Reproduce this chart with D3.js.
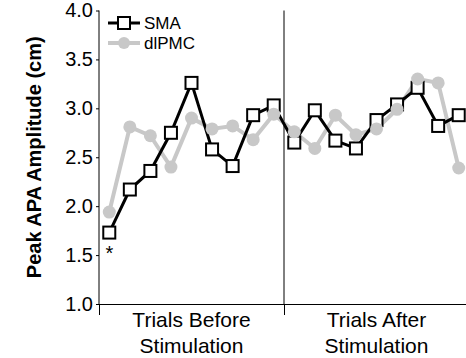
<!DOCTYPE html>
<html>
<head>
<meta charset="utf-8">
<script src="https://cdn.jsdelivr.net/npm/d3@7"></script>
<style>
  body { margin: 0; background: #fff; }
  svg { display: block; font-family: "Liberation Sans", Arial, Helvetica, sans-serif; }
</style>
</head>
<body>
<div id="chart"></div>
<script>
'use strict';

/*** Data */
const trialIndex = d3.range(18);                 // 9 trials before + 9 after
const smaValues = [1.73, 2.17, 2.36, 2.75, 3.26, 2.58, 2.41, 2.93, 3.03,
                   2.65, 2.98, 2.67, 2.59, 2.88, 3.04, 3.21, 2.82, 2.93];
const dlpmcValues = [1.94, 2.81, 2.72, 2.40, 2.90, 2.79, 2.82, 2.68, 2.94,
                     2.76, 2.59, 2.93, 2.73, 2.79, 2.99, 3.30, 3.26, 2.39];
const yTicks = [1.0, 1.5, 2.0, 2.5, 3.0, 3.5, 4.0];
const sectionBounds = [-0.5, 8.5, 17.5];
const sectionLabels = [["Trials Before", "Stimulation"], ["Trials After", "Stimulation"]];
const seriesNames = ["SMA", "dlPMC"];
const starIndex = [0];                            // significance marks on SMA

/*** Dimensions */
const w = 466;
const h = 358;

const svg = d3.select("#chart")
    .append("svg")
    .attr("width", w)
    .attr("height", h);

const xScale = d3.scaleLinear()
    .domain([sectionBounds[0], sectionBounds[2]])
    .range([99, 469]);

const yScale = d3.scaleLinear()
    .domain([1, 4])
    .range([304, 10.5]);

const black = "#000";
const grey = "#c8c8c8";

/** y axis */
const yAxis = d3.axisLeft(yScale)
    .tickValues(yTicks)
    .tickFormat(d3.format(".1f"))
    .tickSize(3)
    .tickSizeOuter(0)
    .tickPadding(3);

const gy = svg.append("g")
    .attr("transform", "translate(" + xScale(sectionBounds[0]) + ",0)")
    .call(yAxis);
gy.select(".domain").remove();
gy.selectAll("text")
    .attr("font-size", 20)
    .attr("font-family", "Liberation Sans, Arial, sans-serif")
    .attr("fill", black);

/** x axis: plain line with section boundary ticks */
const xAxis = d3.axisBottom(xScale)
    .tickValues(sectionBounds)
    .tickSize(11)
    .tickSizeOuter(0)
    .tickFormat("");

svg.append("g")
    .attr("transform", "translate(0," + yScale(1) + ")")
    .call(xAxis);

// vertical axis + section divider, drawn full height
svg.selectAll(".vline")
    .data(sectionBounds.slice(0, 2))
    .enter()
    .append("line")
    .attr("class", "vline")
    .attr("x1", d => xScale(d))
    .attr("x2", d => xScale(d))
    .attr("y1", yScale(4))
    .attr("y2", yScale(1))
    .attr("stroke", black)
    .attr("stroke-width", 1);

/** section labels */
sectionLabels.forEach((lines, i) => {
    const cx = xScale((sectionBounds[i] + sectionBounds[i + 1]) / 2);
    const t = svg.append("text")
        .attr("x", cx)
        .attr("y", 327)
        .attr("text-anchor", "middle")
        .attr("font-size", 21);
    lines.forEach((ln, j) => {
        t.append("tspan")
            .attr("x", cx)
            .attr("dy", j === 0 ? 0 : 25.5)
            .text(ln);
    });
});

/** y axis title */
svg.append("text")
    .attr("transform", "translate(41," + (yScale(1) + yScale(4)) / 2 + ") rotate(-90)")
    .attr("text-anchor", "middle")
    .attr("font-size", 20)
    .attr("font-weight", "bold")
    .text("Peak APA Amplitude (cm)");

/** Lines */
const line = d3.line()
    .x((d, i) => xScale(trialIndex[i]))
    .y(d => yScale(d));

svg.append("path")
    .datum(dlpmcValues)
    .attr("fill", "none")
    .attr("stroke", grey)
    .attr("stroke-width", 4)
    .attr("stroke-linejoin", "round")
    .attr("d", line);

svg.append("path")
    .datum(smaValues)
    .attr("fill", "none")
    .attr("stroke", black)
    .attr("stroke-width", 3)
    .attr("d", line);

svg.selectAll(".sq")
    .data(smaValues)
    .enter()
    .append("rect")
    .attr("class", "sq")
    .attr("x", (d, i) => xScale(trialIndex[i]) - 6)
    .attr("y", d => yScale(d) - 6)
    .attr("width", 12)
    .attr("height", 12)
    .attr("fill", "#fff")
    .attr("stroke", black)
    .attr("stroke-width", 2);

svg.selectAll(".dot")
    .data(dlpmcValues)
    .enter()
    .append("circle")
    .attr("class", "dot")
    .attr("cx", (d, i) => xScale(trialIndex[i]))
    .attr("cy", d => yScale(d))
    .attr("r", 6.5)
    .attr("fill", grey);

/** significance star */
svg.selectAll(".star")
    .data(starIndex)
    .enter()
    .append("text")
    .attr("class", "star")
    .attr("x", d => xScale(trialIndex[d]))
    .attr("y", d => yScale(smaValues[d]) + 27)
    .attr("text-anchor", "middle")
    .attr("font-size", 20)
    .text("*");

/** Legend */
const legend = svg.append("g").attr("transform", "translate(108,23)");
seriesNames.forEach((name, i) => {
    const g = legend.append("g").attr("transform", "translate(0," + i * 20 + ")");
    g.append("line")
        .attr("x1", 0).attr("x2", 32)
        .attr("stroke", i === 0 ? black : grey)
        .attr("stroke-width", i === 0 ? 3 : 4);
    if (i === 0) {
        g.append("rect")
            .attr("x", 10).attr("y", -6)
            .attr("width", 12).attr("height", 12)
            .attr("fill", "#fff")
            .attr("stroke", black)
            .attr("stroke-width", 2);
    } else {
        g.append("circle").attr("cx", 16).attr("r", 6).attr("fill", grey);
    }
    g.append("text")
        .attr("x", 36)
        .attr("y", 6)
        .attr("font-size", 17)
        .text(name);
});
</script>
</body>
</html>
